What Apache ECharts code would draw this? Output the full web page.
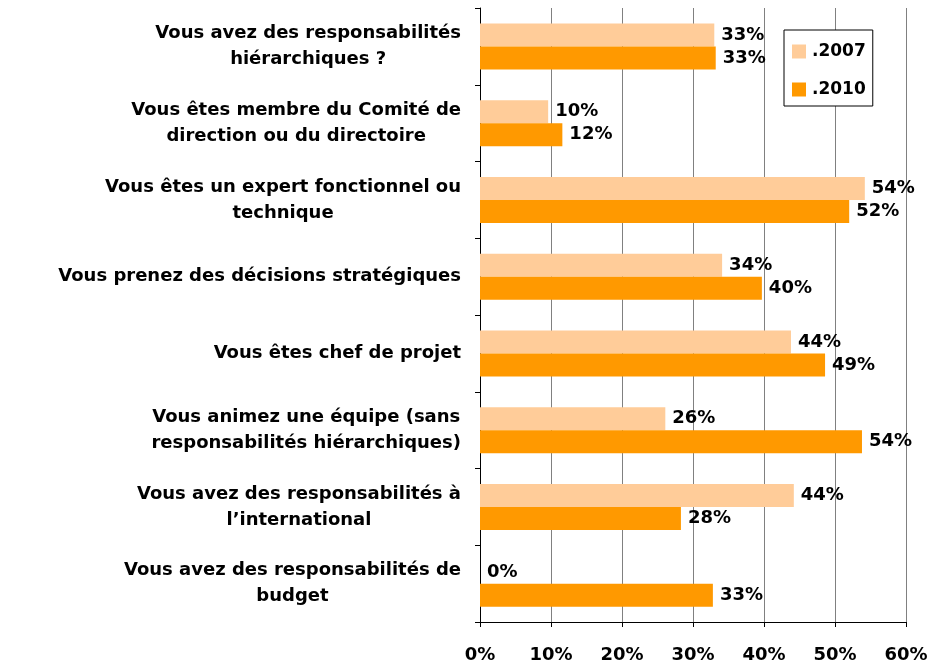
<!DOCTYPE html>
<html>
<head>
<meta charset="utf-8">
<script src="https://cdn.jsdelivr.net/npm/echarts@6/dist/echarts.min.js"></script>
<style>
	html, body { margin: 0; padding: 0; background: #fff; }
	#chart1 { width: 934px; height: 668px; }
</style>
</head>
<body>
<div id="chart1"></div>
<script>
//categories, top to bottom
var categories = [
	"Vous avez des responsabilités\nhiérarchiques ?",
	"Vous êtes membre du Comité de\ndirection ou du directoire",
	"Vous êtes un expert fonctionnel ou\ntechnique",
	"Vous prenez des décisions stratégiques",
	"Vous êtes chef de projet",
	"Vous animez une équipe (sans\nresponsabilités hiérarchiques)",
	"Vous avez des responsabilités à\nl’international",
	"Vous avez des responsabilités de\nbudget"
];

//values in %
var values2007 = [33.0, 9.6, 54.2, 34.1, 43.8, 26.1, 44.2, 0];
var values2010 = [33.2, 11.6, 52.0, 39.7, 48.6, 53.8, 28.3, 32.8];

var seriesNames = [".2007", ".2010"];
var xTicks = [0, 10, 20, 30, 40, 50, 60];

var FONT = "DejaVu Sans, Verdana, sans-serif";

var chart = echarts.init(document.getElementById("chart1"));

//label style for values
var valueLabel = {
	show: true,
	position: "right",
	distance: 7,
	color: "#000",
	fontFamily: FONT,
	fontWeight: "bold",
	fontSize: 18,
	formatter: function (p) {
		return Math.round(p.value) + "%";
	}
};

var option = {
	animation: false,
	backgroundColor: "#fff",
	grid: {
		left: 480,
		right: 28,
		top: 8,
		bottom: 46,
		containLabel: false
	},
	legend: {
		orient: "vertical",
		left: 784,
		top: 30,
		padding: [13, 7, 8, 8],
		itemGap: 21,
		itemWidth: 14,
		itemHeight: 14,
		icon: "rect",
		backgroundColor: "#fff",
		borderColor: "#000",
		borderWidth: 1,
		borderRadius: 0,
		textStyle: {
			color: "#000",
			fontFamily: FONT,
			fontWeight: "bold",
			fontSize: 17,
			padding: [0, 0, 0, 1]
		},
		data: seriesNames
	},
	xAxis: {
		type: "value",
		min: xTicks[0],
		max: xTicks[xTicks.length - 1],
		interval: 10,
		axisLine: { show: true, lineStyle: { color: "#000", width: 1 } },
		axisTick: { show: true, length: 5, lineStyle: { color: "#000" } },
		splitLine: { show: true, lineStyle: { color: "#808080", width: 1 } },
		axisLabel: {
			margin: 24,
			color: "#000",
			fontFamily: FONT,
			fontWeight: "bold",
			fontSize: 18,
			formatter: "{value}%"
		}
	},
	yAxis: {
		type: "category",
		inverse: true,
		data: categories,
		axisLine: { show: true, lineStyle: { color: "#000", width: 1 } },
		axisTick: { show: true, length: 5, lineStyle: { color: "#000" } },
		axisLabel: {
			margin: 19,
			formatter: function (v) {
				return v.split("\n").map(function (l) { return "{c|" + l + "}"; }).join("\n");
			},
			rich: {
				c: {
					align: "center",
					color: "#000",
					fontFamily: FONT,
					fontWeight: "bold",
					fontSize: 18,
					lineHeight: 26
				}
			}
		}
	},
	series: [
		{
			name: seriesNames[0],
			type: "bar",
			data: values2007,
			barWidth: 23,
			barGap: "0%",
			itemStyle: { color: "#FFCC99" },
			label: valueLabel
		},
		{
			name: seriesNames[1],
			type: "bar",
			data: values2010,
			barWidth: 23,
			barGap: "0%",
			itemStyle: { color: "#FF9900" },
			label: valueLabel
		}
	]
};

chart.setOption(option);
</script>
</body>
</html>
